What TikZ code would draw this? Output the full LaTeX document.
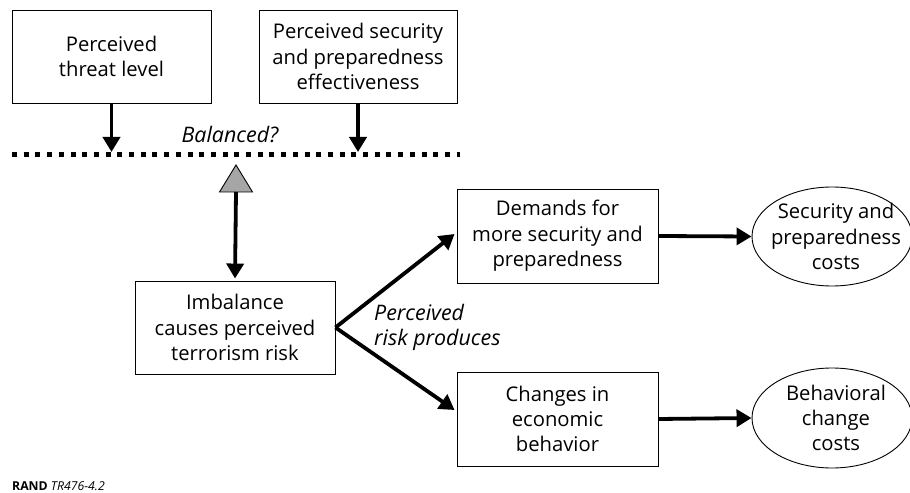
\documentclass[tikz,border=0pt]{standalone}
\usepackage{fontspec}
\setmainfont{Open Sans}
\usetikzlibrary{arrows.meta,shapes.geometric}
\tikzset{
  box/.style={draw=black, line width=0.9bp, align=center, inner sep=0pt,
    font=\fontsize{20.3}{25.5}\selectfont},
  oval/.style={draw=black, line width=0.9bp, ellipse, inner sep=0pt},
  ovaltext/.style={align=center, inner sep=0pt, font=\fontsize{20.3}{25.5}\selectfont},
  lab/.style={font=\fontsize{21.5}{25}\selectfont\itshape, inner sep=0pt},
  arr/.style={line width=3.8bp, -{Triangle[width=17bp,length=15bp]}},
}
\begin{document}
\begin{tikzpicture}[x=1bp,y=-1bp]
\useasboundingbox (0,0) rectangle (910,493);
% boxes
\node[box, minimum width=199bp, minimum height=93bp] (threat) at (111.5,56.5) {Perceived\\threat level};
\node[box, minimum width=198bp, minimum height=93bp] (secur) at (358,56.5) {Perceived security\\and preparedness\\effectiveness};
\node[box, minimum width=200bp, minimum height=93bp] (imb) at (235,327.5) {Imbalance\\causes perceived\\terrorism risk};
\node[box, minimum width=201bp, minimum height=94bp] (dem) at (557.5,236) {Demands for\\more security and\\preparedness};
\node[box, minimum width=201bp, minimum height=94bp] (chg) at (557.5,419) {Changes in\\economic\\behavior};
\node[oval, minimum width=160bp, minimum height=99bp] (spc) at (832,236.5) {};
\node[ovaltext] (spcT) at (836,236.5) {Security and\\preparedness\\costs};
\node[oval, minimum width=160bp, minimum height=100bp] (bcc) at (832,418) {};
\node[ovaltext] (bccT) at (836,418) {Behavioral\\change\\costs};
% balance line
\coordinate (lineL) at (12,155);
\coordinate (lineR) at (460,155);
\draw[line width=5bp, dash pattern=on 5bp off 6.7bp] (lineL) -- (lineR);
\coordinate (hitA) at (111.5,152);
\coordinate (hitB) at (358,152);
\draw[arr] (threat.south) -- (hitA);
\draw[arr] (secur.south) -- (hitB);
\node[lab] (bal) at (230,135) {Balanced?};
% triangle
\coordinate (apex) at (236,165);
\coordinate (tbase) at (236,192);
\draw[line width=0.9bp, fill=black!35] (apex) -- (252.5,192) -- (219.5,192) -- cycle;
\draw[arr] (tbase) -- ([yshift=2bp]imb.north);
% risk arrows
\draw[arr] (imb.east) -- ([xshift=-2bp,yshift=2bp]dem.west);
\draw[arr] (imb.east) -- ([xshift=-2bp,yshift=9bp]chg.west);
\node[lab, align=left, anchor=west] (risk) at (374,327.5) {Perceived\\risk produces};
% cost arrows
\draw[arr] (dem.east) -- (spc.west);
\draw[arr] (chg.east) -- (bcc.west);
% credit
\node[anchor=base west, inner sep=0pt, font=\fontsize{12.3}{14}\selectfont] (credit) at (12,490) {\textbf{RAND} \textit{TR476-4.2}};
\end{tikzpicture}
\end{document}
